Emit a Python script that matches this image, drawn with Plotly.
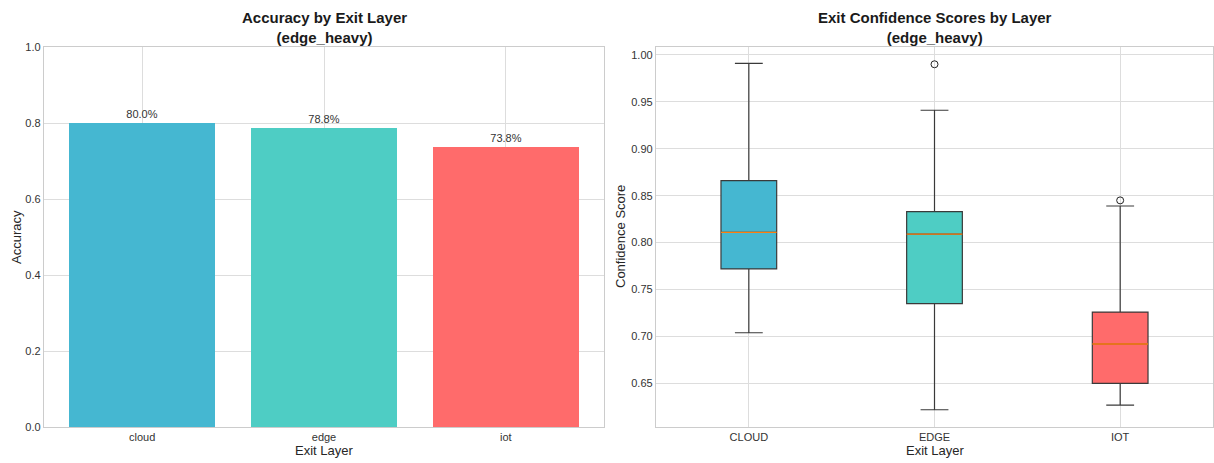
import plotly.graph_objects as go

# Accuracy per exit layer
layers = ["cloud", "edge", "iot"]
accuracy = [0.800, 0.788, 0.738]

# Confidence score distributions per exit layer (box statistics)
box_labels = ["CLOUD", "EDGE", "IOT"]
conf_lower = [0.704, 0.622, 0.627]
conf_q1 = [0.772, 0.735, 0.650]
conf_median = [0.811, 0.809, 0.692]
conf_q3 = [0.866, 0.833, 0.726]
conf_upper = [0.991, 0.941, 0.839]
outlier_layer = ["EDGE", "IOT"]
outlier_value = [0.990, 0.845]

colors = ["#45B7D1", "#4ECDC4", "#FF6B6B"]

W, H = 1214, 463
FONT = "Liberation Sans, Arial, sans-serif"
TXT = "#333333"
GRID = "#dddddd"
FRAME = "#cccccc"

# plot-area geometry in pixels
L1, R1 = 44, 604
L2, R2 = 656, 1213
TOP, BOT = 47, 427


def px_x(p):
    return p / W


def px_y(p):
    return 1 - p / H


fig = go.Figure()

# ---- left: bar chart ----
bar_pos = list(range(len(layers)))
fig.add_trace(go.Bar(
    x=bar_pos, y=accuracy, width=0.8,
    marker=dict(color=colors, line=dict(width=0)),
    text=[f"{v * 100:.1f}%" for v in accuracy],
    textposition="outside", cliponaxis=False,
    textfont=dict(family=FONT, size=11, color=TXT),
    xaxis="x", yaxis="y", showlegend=False,
))

# ---- right: box plot ----
box_pos = [i + 1 for i in range(len(box_labels))]
box_w = 0.3
for i, name in enumerate(box_labels):
    fig.add_trace(go.Box(
        x=[box_pos[i]], q1=[conf_q1[i]], median=[conf_median[i]],
        q3=[conf_q3[i]], lowerfence=[conf_lower[i]],
        upperfence=[conf_upper[i]],
        width=box_w, whiskerwidth=0.5,
        fillcolor=colors[i],
        line=dict(color="#3a3a3a", width=1.2),
        xaxis="x2", yaxis="y2", showlegend=False, hoverinfo="skip",
    ))
    # orange median line
    fig.add_trace(go.Scatter(
        x=[box_pos[i] - box_w / 2, box_pos[i] + box_w / 2],
        y=[conf_median[i], conf_median[i]],
        mode="lines", line=dict(color="#ff7f0e", width=1.3),
        xaxis="x2", yaxis="y2", showlegend=False, hoverinfo="skip",
    ))

fig.add_trace(go.Scatter(
    x=[box_pos[box_labels.index(n)] for n in outlier_layer],
    y=outlier_value, mode="markers",
    marker=dict(symbol="circle-open", size=7, color="#222222",
                line=dict(width=1)),
    xaxis="x2", yaxis="y2", showlegend=False,
))

axis_common = dict(
    showgrid=True, gridcolor=GRID, gridwidth=1,
    showline=True, linecolor=FRAME, linewidth=1.3, mirror=True,
    zeroline=False, ticks="", automargin=False,
    tickfont=dict(family=FONT, size=11, color=TXT),
    fixedrange=True,
)

fig.update_layout(
    width=W, height=H,
    margin=dict(l=0, r=0, t=0, b=0),
    paper_bgcolor="white", plot_bgcolor="white",
    bargap=0,
    xaxis=dict(
        domain=[px_x(L1), px_x(R1)], range=[-0.54, 2.54],
        tickvals=bar_pos, ticktext=layers, anchor="y", **axis_common,
    ),
    yaxis=dict(
        domain=[px_y(BOT), px_y(TOP)], range=[0, 1.0],
        tickvals=[0, 0.2, 0.4, 0.6, 0.8, 1.0], tickformat=".1f",
        anchor="x", **axis_common,
    ),
    xaxis2=dict(
        domain=[px_x(L2), px_x(R2)], range=[0.5, 3.5],
        tickvals=box_pos, ticktext=box_labels, anchor="y2", **axis_common,
    ),
    yaxis2=dict(
        domain=[px_y(BOT), px_y(TOP)], range=[0.6036, 1.0084],
        tickvals=[0.65, 0.70, 0.75, 0.80, 0.85, 0.90, 0.95, 1.00],
        tickformat=".2f", anchor="x2", **axis_common,
    ),
)

title_font = dict(family=FONT, size=15, color="#1a1a1a")
label_font = dict(family=FONT, size=13, color="#262626")

ann = [
    dict(text="<b>Accuracy by Exit Layer</b><br><b>(edge_heavy)</b>",
         x=px_x((L1 + R1) / 2), y=px_y(TOP + 1), yanchor="bottom",
         font=title_font),
    dict(text="<b>Exit Confidence Scores by Layer</b><br><b>(edge_heavy)</b>",
         x=px_x((L2 + R2) / 2), y=px_y(TOP + 1), yanchor="bottom",
         font=title_font),
    dict(text="Exit Layer", x=px_x((L1 + R1) / 2), y=px_y(450),
         yanchor="middle", font=label_font),
    dict(text="Exit Layer", x=px_x((L2 + R2) / 2), y=px_y(450),
         yanchor="middle", font=label_font),
    dict(text="Accuracy", x=px_x(16), y=px_y((TOP + BOT) / 2),
         textangle=-90, xanchor="center", font=label_font),
    dict(text="Confidence Score", x=px_x(620), y=px_y((TOP + BOT) / 2),
         textangle=-90, xanchor="center", font=label_font),
]
for a in ann:
    a.update(xref="paper", yref="paper", showarrow=False)
    a.setdefault("xanchor", "center")
fig.update_layout(annotations=ann)

fig.write_html("out.html")
